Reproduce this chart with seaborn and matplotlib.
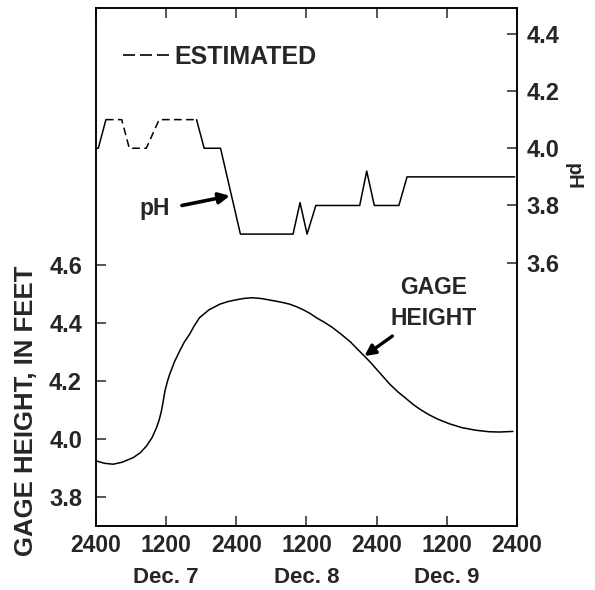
import matplotlib.pyplot as plt
import matplotlib.transforms as mtransforms
from matplotlib.lines import Line2D
import pandas as pd
import seaborn as sns

# hours after 2400 Dec. 6
hours_gage = [0.1, 1.5, 2.95, 4.5, 6.4, 7.6, 8.65, 9.6, 10.35, 10.8, 11.2,
              11.5, 11.8, 12.2, 12.6, 13.4, 14.3, 15.1, 16.0, 16.8, 17.7,
              19.3, 21.2, 22.6, 24.0, 25.4, 26.8, 28.4, 30.0, 31.6, 33.1,
              34.3, 35.5, 36.6, 37.7, 39.0, 40.4, 42.0, 43.5, 44.7, 45.9,
              47.0, 48.0, 49.1, 50.2, 51.6, 53.0, 54.3, 55.6, 57.0, 58.5,
              60.5, 62.6, 65.0, 67.2, 69.0, 71.3]
gage_ft = [3.924, 3.916, 3.913, 3.920, 3.936, 3.953, 3.976, 4.005, 4.039,
           4.065, 4.097, 4.130, 4.166, 4.197, 4.223, 4.265, 4.303, 4.334,
           4.361, 4.390, 4.418, 4.445, 4.465, 4.474, 4.480, 4.485, 4.487,
           4.484, 4.478, 4.472, 4.465, 4.456, 4.445, 4.433, 4.418, 4.403,
           4.385, 4.360, 4.335, 4.310, 4.286, 4.263, 4.240, 4.215, 4.190,
           4.163, 4.140, 4.118, 4.100, 4.083, 4.068, 4.052, 4.039, 4.030,
           4.025, 4.024, 4.026]

hours_ph_start = [0.0, 0.4, 1.7]
ph_start = [4.0, 4.0, 4.1]
hours_ph_est = [1.7, 4.4, 5.7, 8.6, 10.8, 17.2]
ph_est = [4.1, 4.1, 4.0, 4.0, 4.1, 4.1]
hours_ph = [17.2, 18.5, 21.3, 24.7, 33.7, 34.9, 36.1, 37.6, 45.1, 46.3,
            47.6, 51.8, 53.2, 71.6]
ph_obs = [4.1, 4.0, 4.0, 3.7, 3.7, 3.81, 3.7, 3.8, 3.8, 3.92, 3.8, 3.8,
          3.9, 3.9]

hour_ticks = [0, 12, 24, 36, 48, 60, 72]
hour_labels = ['2400', '1200', '2400', '1200', '2400', '1200', '2400']
day_pos = [12, 36, 60]
day_labels = ['Dec. 7', 'Dec. 8', 'Dec. 9']
gage_ticks = [3.8, 4.0, 4.2, 4.4, 4.6]
ph_ticks = [3.6, 3.8, 4.0, 4.2, 4.4]

sns.set_style('ticks')
plt.rcParams['font.family'] = ['Liberation Sans', 'DejaVu Sans']
plt.rcParams['font.weight'] = 'bold'

fig, ax = plt.subplots(figsize=(5.95, 5.9), dpi=100)
fig.subplots_adjust(left=0.1613, right=0.8689, bottom=0.1085, top=0.9864)
ax2 = ax.twinx()

gage = pd.DataFrame({'hour': hours_gage, 'gage': gage_ft})
sns.lineplot(data=gage, x='hour', y='gage', ax=ax, color='black', lw=1.1,
             estimator=None, sort=False)

sns.lineplot(x=hours_ph_start, y=ph_start, ax=ax2, color='black', lw=1.1,
             estimator=None, sort=False)
sns.lineplot(x=hours_ph_est, y=ph_est, ax=ax2, color='black', lw=1.1,
             estimator=None, sort=False, dashes=False,
             linestyle=(0, (5, 2.9)))
sns.lineplot(x=hours_ph, y=ph_obs, ax=ax2, color='black', lw=1.1,
             estimator=None, sort=False)

ax.set_xlim(0, 72)
ax.set_ylim(3.70, 5.486)
ax2.set_ylim(2.68, 4.49)

ax.set_xticks(hour_ticks)
ax.set_xticklabels(hour_labels)
ax.set_yticks(gage_ticks)
ax.set_yticklabels([f'{v:.1f}' for v in gage_ticks])
ax2.set_yticks(ph_ticks)
ax2.set_yticklabels([f'{v:.1f}' for v in ph_ticks])

ax.tick_params(axis='x', direction='in', length=7, width=1.1, top=True,
               labelsize=16.5, pad=6)
ax.tick_params(axis='y', direction='in', length=7, width=1.1,
               labelsize=17, pad=10)
ax2.tick_params(axis='y', direction='in', length=7, width=1.1,
                labelsize=17, pad=7)
for a in (ax, ax2):
    for s in a.spines.values():
        s.set_linewidth(1.1)
        s.set_color('black')
    a.grid(False)
ax.set_xlabel('')
ax2.set_xlabel('')

ax.set_ylabel('GAGE HEIGHT, IN FEET', fontsize=18.5, fontweight='bold',
              va='center')
ax.yaxis.set_label_coords(-0.167, 0.222)
ax2.set_ylabel('')
ax2.text(1.133, 0.674, 'pH', transform=ax2.transAxes, rotation=270,
         ha='center', va='center', fontsize=14.5, fontweight='bold')

# day names under the hour labels
trans = mtransforms.blended_transform_factory(ax.transData, ax.transAxes)
for pos, lab in zip(day_pos, day_labels):
    ax.text(pos, -0.099, lab, transform=trans, ha='center', va='center',
            fontsize=16, fontweight='bold')

# curve labels with arrows
ax2.text(10.1, 3.79, 'pH', ha='center', va='center', fontsize=16.5,
         fontweight='bold')
ax2.annotate('', xy=(22.9, 3.834), xytext=(14.7, 3.80),
             arrowprops=dict(arrowstyle='-|>', lw=2.6, color='black',
                             mutation_scale=16, shrinkA=0, shrinkB=0))
ax.text(57.7, 4.469, 'GAGE\nHEIGHT', ha='center', va='center', fontsize=16.5,
        fontweight='bold', linespacing=1.4)
ax.annotate('', xy=(45.9, 4.286), xytext=(50.7, 4.355),
            arrowprops=dict(arrowstyle='-|>', lw=2.4, color='black',
                            mutation_scale=16, shrinkA=0, shrinkB=0))

handle = Line2D([], [], color='black', lw=1.2, linestyle=(0, (7.2, 3)))
ax2.legend([handle], ['ESTIMATED'], loc='center left',
           bbox_to_anchor=(0.064, 0.905), frameon=False, borderpad=0,
           borderaxespad=0, handlelength=2.0, handletextpad=0.05,
           prop={'size': 18, 'weight': 'bold'})

plt.savefig('out.png', dpi=100, facecolor='white')
plt.close()
